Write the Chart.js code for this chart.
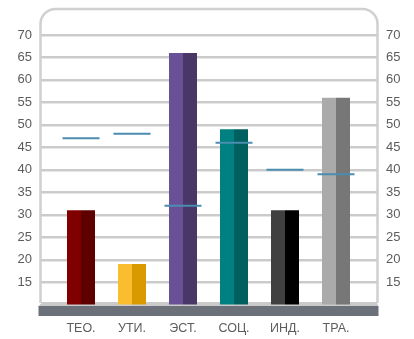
<!DOCTYPE html>
<html lang="ru">
<head>
  <meta charset="UTF-8">
  <title>Bar chart</title>
  <script src="https://cdn.jsdelivr.net/npm/chart.js"></script>
  <style>
    body {
      margin: 0;
      background: #ffffff;
    }
    .chart-box {
      width: 414px;
      height: 339px;
    }
  </style>
</head>
<body>
  <div class="chart-box"><canvas id="myChart"></canvas></div>

  <script>
    // Data
    const categories = ['ТЕО.', 'УТИ.', 'ЭСТ.', 'СОЦ.', 'ИНД.', 'ТРА.'];
    const barValues = [31, 19, 66, 49, 31, 56];
    const markerValues = [47, 48, 32, 46, 40, 39];
    const yTicks = [15, 20, 25, 30, 35, 40, 45, 50, 55, 60, 65, 70];

    // left (lit) and right (shaded) faces of each bar
    const lightColors = ['#800000', '#fbbd30', '#6a5197', '#008080', '#404040', '#aaaaaa'];
    const darkColors = ['#5e0000', '#d99a00', '#483767', '#006060', '#000000', '#777777'];

    const textColor = '#5c5c5c';

    // back wall, gridlines and floor slab
    const wallPlugin = {
      id: 'wall',
      beforeDatasetsDraw(chart) {
        const { ctx, chartArea, scales } = chart;
        const y = scales.y;
        const left = chartArea.left - 15;
        const right = chartArea.right + 16;
        const top = 9;
        const floor = 303;
        const r = 15;
        ctx.save();

        yTicks.forEach(v => {
          const py = Math.round(y.getPixelForValue(v));
          ctx.fillStyle = '#cbcbcb';
          ctx.fillRect(left, py - 1, right - left, 2);
          ctx.fillStyle = '#e6e6e6';
          ctx.fillRect(left, py + 1, right - left, 1);
        });

        ctx.strokeStyle = '#d0d0d0';
        ctx.lineWidth = 2.5;
        ctx.beginPath();
        ctx.moveTo(left, floor);
        ctx.lineTo(left, top + r);
        ctx.arcTo(left, top, left + r, top, r);
        ctx.lineTo(right - r, top);
        ctx.arcTo(right, top, right, top + r, r);
        ctx.lineTo(right, floor);
        ctx.stroke();

        // floor top
        ctx.fillStyle = '#cacaca';
        ctx.beginPath();
        ctx.moveTo(left + 2, floor - 1);
        ctx.lineTo(right - 1, floor - 1);
        ctx.lineTo(right + 1, floor + 3);
        ctx.lineTo(left - 2, floor + 3);
        ctx.closePath();
        ctx.fill();

        // floor front
        ctx.fillStyle = '#6b7079';
        ctx.fillRect(left - 2, floor + 3, right - left + 3, 10);

        ctx.restore();
      }
    };

    // big tick padding would otherwise push the plot area down
    function fixAxis(width) {
      return s => {
        s.width = width;
        s.paddingTop = 0;
        s.paddingBottom = 0;
      };
    }

    const ctx = document.getElementById('myChart').getContext('2d');

    const config = {
      type: 'bar',
      data: {
        labels: categories,
        datasets: [
          {
            type: 'line',
            label: 'Target',
            data: markerValues,
            showLine: false,
            pointStyle: 'line',
            pointRadius: 18.5,
            pointBorderWidth: 2,
            pointBorderColor: '#4a8db0',
            borderColor: '#4a8db0',
            order: 0
          },
          {
            label: 'Value',
            data: barValues,
            backgroundColor: lightColors,
            borderWidth: 0,
            categoryPercentage: 28 / 51,
            barPercentage: 1,
            order: 1
          },
          {
            label: 'Value shade',
            data: barValues,
            backgroundColor: darkColors,
            borderWidth: 0,
            categoryPercentage: 28 / 51,
            barPercentage: 1,
            order: 1
          }
        ]
      },
      options: {
        responsive: true,
        maintainAspectRatio: false,
        animation: false,
        layout: {
          autoPadding: false,
          padding: { top: 8, bottom: 0, left: 0, right: 0 }
        },
        plugins: {
          legend: { display: false },
          tooltip: { enabled: false }
        },
        scales: {
          x: {
            grid: { display: false, drawTicks: false },
            border: { display: false },
            ticks: {
              color: textColor,
              padding: 16.5,
              font: { family: 'Liberation Sans, Arial, sans-serif', size: 12.5 }
            },
            afterFit: s => { s.height = 34.5; }
          },
          y: {
            position: 'left',
            min: 10,
            max: 76,
            grid: { display: false, drawTicks: false },
            border: { display: false },
            afterBuildTicks: s => { s.ticks = yTicks.map(v => ({ value: v })); },
            ticks: {
              color: textColor,
              padding: 23.5,
              font: { family: 'Liberation Sans, Arial, sans-serif', size: 13 }
            },
            afterFit: fixAxis(55.5)
          },
          y2: {
            position: 'right',
            min: 10,
            max: 76,
            grid: { display: false, drawTicks: false },
            border: { display: false },
            afterBuildTicks: s => { s.ticks = yTicks.map(v => ({ value: v })); },
            ticks: {
              color: textColor,
              padding: 24.5,
              font: { family: 'Liberation Sans, Arial, sans-serif', size: 13 }
            },
            afterFit: fixAxis(52.5)
          }
        }
      },
      plugins: [wallPlugin]
    };

    const myChart = new Chart(ctx, config);
  </script>
</body>
</html>
